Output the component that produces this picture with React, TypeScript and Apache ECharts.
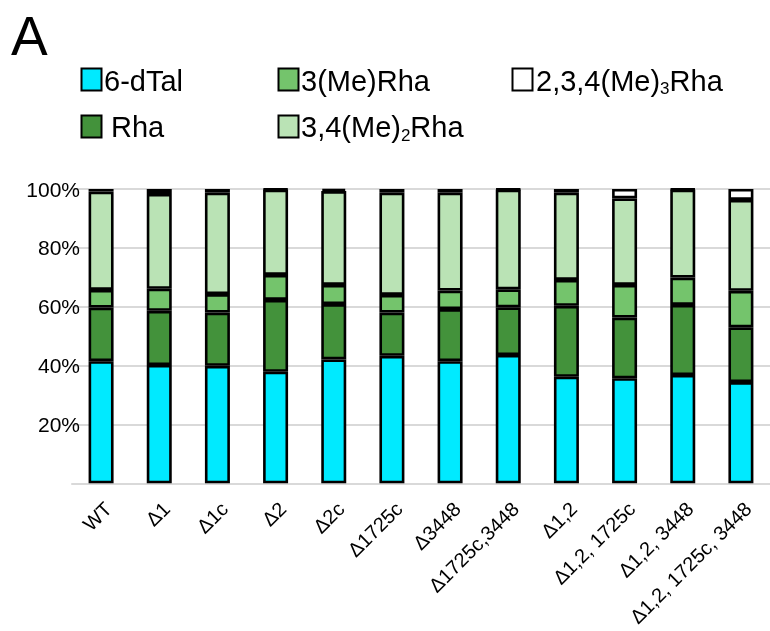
import React, { useEffect, useRef } from "react";
import * as echarts from "echarts";

const categories = [
  "WT", "Δ1", "Δ1c", "Δ2", "Δ2c", "Δ1725c", "Δ3448", "Δ1725c,3448",
  "Δ1,2", "Δ1,2, 1725c", "Δ1,2, 3448", "Δ1,2, 1725c, 3448",
];
const dTal = [41.5, 40.2, 39.9, 37.9, 42.1, 43.3, 41.5, 43.6, 36.2, 35.7, 36.8, 34.4];
const rha = [18.2, 18.4, 18.1, 24.4, 18.8, 14.7, 17.7, 16.2, 24.1, 20.6, 23.8, 18.6];
const meRha = [6.0, 7.5, 6.3, 8.5, 6.5, 6.0, 6.3, 6.1, 8.8, 11.1, 9.3, 12.4];
const me2Rha = [33.4, 32.2, 34.5, 29.0, 31.9, 34.8, 33.3, 33.9, 29.7, 29.4, 29.9, 30.9];
const me3Rha = [0.9, 1.7, 1.2, 0.2, 0.7, 1.2, 1.2, 0.2, 1.2, 3.2, 0.2, 3.7];
const yTicks = [0, 20, 40, 60, 80, 100];

const seriesNames = ["6-dTal", "Rha", "3(Me)Rha", "3,4(Me)2Rha", "2,3,4(Me)3Rha"];
const seriesData = [dTal, rha, meRha, me2Rha, me3Rha];
const colors = ["#00EAFF", "#43923B", "#74C46C", "#BAE3B5", "#FFFFFF"];

const FONT = '"Liberation Sans", Arial, sans-serif';

function measure(text: string, size: number): number {
  const ctx = document.createElement("canvas").getContext("2d");
  if (!ctx) return text.length * size * 0.55;
  ctx.font = `${size}px "Liberation Sans"`;
  return ctx.measureText(text).width;
}

export default function App() {
  const ref = useRef<HTMLDivElement>(null);
  useEffect(() => {
    if (!ref.current) return;
    const chart = echarts.init(ref.current, null, { renderer: "svg" });

    const LF = 29; // legend font
    const SF = 17; // subscript font
    const txt = (text: string, x: number, y: number, size: number) => ({
      type: "text",
      x,
      y,
      style: { text, fontSize: size, fontFamily: FONT, fill: "#000", align: "left", verticalAlign: "middle" },
    });
    const box = (x: number, y: number, fill: string) => ({
      type: "rect",
      shape: { x, y, width: 20, height: 22 },
      style: { fill, stroke: "#000", lineWidth: 2 },
    });
    const row1 = 80.5;
    const row2 = 127;
    const subOff = (LF - SF) * 0.35 + 4;

    const l3a = "2,3,4(Me)";
    const l3x = 536;
    const l3w = measure(l3a, LF);
    const l3s = measure("3", SF);
    const l5a = "3,4(Me)";
    const l5x = 301;
    const l5w = measure(l5a, LF);
    const l5s = measure("2", SF);

    const graphics: any[] = [
      txt("A", 11, 36, 55),
      box(81.5, 68.5, colors[0]), txt("6-dTal", 104, row1, LF),
      box(278.5, 68.5, colors[2]), txt("3(Me)Rha", 301, row1, LF),
      box(512.5, 68.5, colors[4]), txt(l3a, l3x, row1, LF),
      txt("3", l3x + l3w, row1 + subOff, SF), txt("Rha", l3x + l3w + l3s, row1, LF),
      box(81.5, 115.5, colors[1]), txt("Rha", 111, row2, LF),
      box(278.5, 115.5, colors[3]), txt(l5a, l5x, row2, LF),
      txt("2", l5x + l5w, row2 + subOff, SF), txt("Rha", l5x + l5w + l5s, row2, LF),
    ];

    chart.setOption({
      animation: false,
      textStyle: { fontFamily: FONT },
      grid: {
        left: 72,
        right: 0,
        top: 189,
        bottom: 147.7,
        containLabel: false,
        outerBoundsMode: "none",
      },
      xAxis: {
        type: "category",
        data: categories,
        axisLine: { show: true, lineStyle: { color: "#D9D9D9", width: 2 } },
        axisTick: { show: false },
        axisLabel: {
          rotate: 45,
          fontSize: 20,
          color: "#000",
          margin: 15,
          interval: 0,
          verticalAlign: "top",
          fontFamily: FONT,
        },
      },
      yAxis: {
        type: "value",
        min: yTicks[0],
        max: yTicks[yTicks.length - 1],
        interval: 20,
        axisLine: { show: false },
        axisTick: { show: false },
        splitLine: { show: true, lineStyle: { color: "#D9D9D9", width: 2 } },
        axisLabel: {
          fontSize: 21,
          color: "#000",
          margin: -8,
          fontFamily: FONT,
          formatter: (v: number) => (v === 0 ? "" : `${v}%`),
        },
      },
      series: seriesNames.map((name, i) => ({
        name,
        type: "bar",
        stack: "total",
        barWidth: 25,
        data: seriesData[i],
        itemStyle: { color: colors[i], borderColor: "#000", borderWidth: 2.6 },
      })),
      graphic: { elements: graphics },
    });
    return () => chart.dispose();
  }, []);
  return <div ref={ref} style={{ position: "fixed", left: 0, top: 0, width: 770, height: 631 }} />;
}
